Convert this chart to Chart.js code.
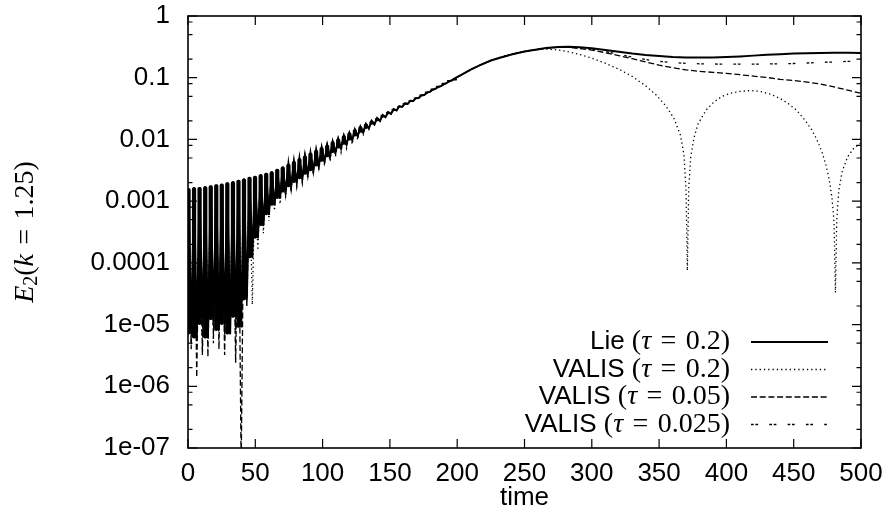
<!DOCTYPE html>
<html>
<head>
<meta charset="utf-8">
<script src="https://cdn.jsdelivr.net/npm/chart.js@4.4.1/dist/chart.umd.min.js"></script>
<style>
  html, body { margin:0; padding:0; background:#fff; }
  #wrap { width:888px; height:528px; }
</style>
</head>
<body>
<div id="wrap"><canvas id="chart" width="888" height="528"></canvas></div>
<script>
/* ============ DATA ============ */
// oscillation phase: peaks (shared by all runs)
var peakT = [0.4, 4.5, 8.6, 12.8, 16.9, 21.0, 25.1, 29.2, 33.4, 37.5, 41.6, 45.7, 49.8, 54.0, 58.1,
  62.2, 66.3, 70.4, 74.6, 78.7, 82.8, 86.9, 91.0, 95.2, 99.3, 103.4, 107.5, 111.6, 115.8, 119.9,
  124.0, 128.1, 132.2, 136.4, 140.5, 144.6, 148.7, 152.8, 157.0, 161.1, 165.2, 169.3, 173.4, 177.6,
  181.7, 185.8, 189.9, 194.0, 198.2];
var peakE = [1.6e-3, 1.66e-3, 1.68e-3, 1.72e-3, 1.78e-3, 1.85e-3, 1.9e-3, 2.0e-3, 2.08e-3, 2.2e-3,
  2.3e-3, 2.45e-3, 2.55e-3, 2.7e-3, 2.85e-3, 3.0e-3, 3.3e-3, 3.6e-3, 4.0e-3, 4.4e-3,
  4.9e-3, 5.4e-3, 6.0e-3, 6.7e-3, 7.4e-3, 8.1e-3, 9.2e-3, 1.02e-2, 1.15e-2, 1.28e-2,
  1.45e-2, 1.62e-2, 1.79e-2, 2.0e-2, 2.22e-2, 2.48e-2, 2.77e-2, 3.09e-2, 3.45e-2, 3.83e-2,
  4.22e-2, 4.66e-2, 5.17e-2, 5.73e-2, 6.38e-2, 7.07e-2, 7.81e-2, 8.7e-2, 9.75e-2];

// troughs
var troughT = [2.4, 6.5, 10.7, 14.8, 18.9, 23.0, 27.2, 31.3, 35.4, 39.5, 43.7, 47.8, 51.9, 56.0,
  60.1, 64.3, 68.4, 72.5, 76.6, 80.8, 84.9, 89.0, 93.1, 97.2, 101.4, 105.5, 109.6, 113.7, 117.8,
  122.0, 126.1, 130.2, 134.3, 138.5, 142.6, 146.7, 150.8, 154.9, 159.1, 163.2, 167.3, 171.4, 175.5,
  179.7, 183.8, 187.9, 192.0, 196.1];
// troughs from t=51.9 on (shared)
var troughLate = [2.5e-4, 4e-4, 6e-4, 8.5e-4, 1.1e-3, 1.4e-3, 1.7e-3, 2.0e-3, 2.3e-3, 2.7e-3,
  3.1e-3, 3.7e-3, 4.4e-3, 5.2e-3, 6.1e-3, 7.2e-3, 8.3e-3, 9.7e-3, 1.13e-2, 1.3e-2,
  1.5e-2, 1.75e-2, 1.99e-2, 2.29e-2, 2.6e-2, 2.95e-2, 3.36e-2, 3.77e-2, 4.21e-2, 4.7e-2,
  5.26e-2, 5.89e-2, 6.58e-2, 7.3e-2, 8.15e-2, 9.1e-2];
// first 12 troughs (t = 2.4 .. 47.8) per run
var earlyLie   = [7e-6, 6e-6, 1e-5, 6e-6, 1.2e-5, 8e-6, 1e-5, 7e-6, 1.3e-5, 9e-6, 2.5e-5, 1.2e-4];
var earlyV005  = [4e-6, 1.4e-6, 3.2e-6, 3e-6, 6e-6, 4e-6, 3.2e-6, 7e-6, 2.4e-6, 5e-8, 1.9e-5, 1.5e-4];
var earlyV0025 = [5e-6, 9e-6, 4e-6, 8e-6, 5e-6, 1.3e-5, 6e-6, 9e-6, 5e-6, 1.5e-5, 4e-5, 1.3e-4];
// VALIS tau=0.2 goes a bit deeper, first 32 troughs (t = 2.4 .. 130.2)
var troughV02 = [1.2e-5, 8e-6, 1.6e-5, 9e-6, 1.5e-5, 1.1e-5, 9e-6, 1.4e-5, 1.2e-5, 2e-5, 3e-5, 2.1e-5,
  1.6e-4, 3e-4, 4.8e-4, 7e-4, 9e-4, 1.15e-3, 1.45e-3, 1.75e-3, 2.0e-3, 2.35e-3, 2.7e-3, 3.2e-3,
  3.8e-3, 4.5e-3, 5.3e-3, 6.2e-3, 7.2e-3, 8.4e-3, 9.8e-3, 1.14e-2];

// saturation phase
var lateT = [202, 210, 217, 225, 233, 241, 250, 258, 266, 275, 283, 291, 300, 310, 320, 330, 340,
  350, 360, 370, 380, 390, 400, 410, 420, 430, 440, 450, 460, 470, 480, 490, 500];
var lateLie = [0.108, 0.135, 0.16, 0.19, 0.215, 0.24, 0.265, 0.285, 0.303, 0.315, 0.318, 0.312, 0.3,
  0.282, 0.263, 0.246, 0.233, 0.224, 0.217, 0.213, 0.212, 0.213, 0.216, 0.221, 0.228, 0.235, 0.241,
  0.246, 0.25, 0.252, 0.253, 0.253, 0.252];
var lateV005 = [0.108, 0.135, 0.16, 0.19, 0.215, 0.24, 0.265, 0.284, 0.3, 0.31, 0.31, 0.298, 0.28,
  0.255, 0.228, 0.203, 0.18, 0.16, 0.145, 0.134, 0.127, 0.122, 0.118, 0.112, 0.106, 0.101, 0.094,
  0.09, 0.085, 0.079, 0.071, 0.063, 0.056];
var lateV0025 = [0.108, 0.135, 0.16, 0.19, 0.215, 0.24, 0.265, 0.284, 0.301, 0.312, 0.313, 0.305, 0.29,
  0.266, 0.24, 0.215, 0.197, 0.184, 0.176, 0.171, 0.168, 0.167, 0.166, 0.166, 0.166, 0.167, 0.168,
  0.17, 0.173, 0.177, 0.18, 0.184, 0.187];
var v02T = [202, 210, 217, 225, 233, 241, 250, 258, 266, 275, 283, 291, 300, 310, 320, 330, 340, 348,
  355, 361, 366, 368.5, 370, 371, 372, 373.5, 376, 379, 385, 391, 397, 403, 410, 418, 425, 433, 440,
  446, 452, 458, 463, 467, 471, 474, 476.5, 478.5, 480, 481, 482, 483.5, 486, 490, 495, 500];
var v02E = [0.107, 0.134, 0.16, 0.19, 0.218, 0.243, 0.268, 0.284, 0.29, 0.282, 0.262, 0.238, 0.208,
  0.172, 0.138, 0.105, 0.074, 0.052, 0.035, 0.022, 0.0115, 0.0055, 0.0015, 7.5e-5, 0.0016, 0.0052,
  0.0108, 0.018, 0.03, 0.041, 0.05, 0.056, 0.06, 0.062, 0.06, 0.054, 0.046, 0.038, 0.03, 0.021,
  0.0148, 0.0102, 0.0063, 0.0038, 0.0022, 0.0011, 4.5e-4, 3.3e-5, 5e-4, 0.0015, 0.003, 0.0052,
  0.0074, 0.0087];

var seriesNames = ['Lie', 'VALIS', 'VALIS', 'VALIS'];
var seriesTaus = ['0.2', '0.2', '0.05', '0.025'];

var xTickVals = [0, 50, 100, 150, 200, 250, 300, 350, 400, 450, 500];
var yTickVals = [1e-7, 1e-6, 1e-5, 1e-4, 1e-3, 1e-2, 1e-1, 1];
var yTickText = ['1e-07', '1e-06', '1e-05', '0.0001', '0.001', '0.01', '0.1', '1'];
var yMinorMul = [2, 5, 8];

/* ============ BUILD ============ */
function buildSeries(troughs, lx, ly) {
  var pts = [];
  for (var i = 0; i < peakT.length; i++) {
    pts.push({ x: peakT[i], y: peakE[i] });
    if (i < troughT.length) pts.push({ x: troughT[i], y: troughs[i] });
  }
  for (var j = 0; j < lx.length; j++) pts.push({ x: lx[j], y: ly[j] });
  return pts;
}

var SANS = '"Liberation Sans", Arial, sans-serif';
var SERIF = '"Liberation Serif", "DejaVu Serif", serif';

var styles = [
  { width: 2, dash: [] },
  { width: 1.3, dash: [1.3, 3] },
  { width: 1.3, dash: [6, 2.7] },
  { width: 1.3, dash: [2.7, 1.7, 2.7, 11.2] }
];
var troughLie = earlyLie.concat(troughLate);
var seriesData = [
  buildSeries(troughLie, lateT, lateLie),
  buildSeries(troughV02.concat(troughLate.slice(20)), v02T, v02E),
  buildSeries(earlyV005.concat(troughLate), lateT, lateV005),
  buildSeries(earlyV0025.concat(troughLate), lateT, lateV0025)
];

var datasets = seriesData.map(function(d, i) {
  return {
    type: 'line',
    label: seriesNames[i] + ' (τ = ' + seriesTaus[i] + ')',
    data: d,
    borderColor: '#000',
    backgroundColor: '#000',
    borderWidth: styles[i].width,
    borderDash: styles[i].dash,
    pointRadius: 0,
    tension: 0,
    fill: false
  };
});
// dense oscillation humps: one floating column per peak, from the trough up to the peak
datasets.push({
  type: 'bar',
  label: 'humps',
  data: peakT.map(function(t, i) {
    return { x: t, y: [troughLie[Math.min(i, troughLie.length - 1)], peakE[i]] };
  }),
  backgroundColor: '#000',
  borderWidth: 0,
  barThickness: 3.6,
  borderRadius: 1.8,
  borderSkipped: false
});

/* ============ DRAW HELPERS ============ */
function drawRuns(ctx, runs, x, y, align) {
  var total = 0;
  runs.forEach(function(r) { ctx.font = r.font; r.w = ctx.measureText(r.text).width; total += r.w; });
  var cx = align === 'right' ? x - total : (align === 'center' ? x - total / 2 : x);
  ctx.textAlign = 'left';
  ctx.textBaseline = 'middle';
  runs.forEach(function(r) {
    ctx.font = r.font;
    ctx.fillText(r.text, cx, y + (r.dy || 0));
    cx += r.w;
  });
}

var decor = {
  id: 'decor',
  afterDraw: function(chart) {
    var ctx = chart.ctx, a = chart.chartArea;
    var xs = chart.scales.x, ys = chart.scales.y;
    ctx.save();
    ctx.fillStyle = '#000';
    ctx.strokeStyle = '#000';
    ctx.setLineDash([]);

    // ticks (inward, all four sides)
    ctx.lineWidth = 1.2;
    ctx.beginPath();
    xTickVals.forEach(function(v) {
      var px = xs.getPixelForValue(v);
      ctx.moveTo(px, a.bottom); ctx.lineTo(px, a.bottom - 9);
      ctx.moveTo(px, a.top); ctx.lineTo(px, a.top + 9);
    });
    yTickVals.forEach(function(v) {
      var py = ys.getPixelForValue(v);
      ctx.moveTo(a.left, py); ctx.lineTo(a.left + 9, py);
      ctx.moveTo(a.right, py); ctx.lineTo(a.right - 9, py);
      yMinorMul.forEach(function(m) {
        if (v * m > 1) return;
        var pm = ys.getPixelForValue(v * m);
        ctx.moveTo(a.left, pm); ctx.lineTo(a.left + 4.5, pm);
        ctx.moveTo(a.right, pm); ctx.lineTo(a.right - 4.5, pm);
      });
    });
    ctx.stroke();

    // frame
    ctx.lineWidth = 1.6;
    ctx.strokeRect(a.left, a.top, a.right - a.left, a.bottom - a.top);

    // legend
    var rowY = [342, 369.5, 397, 424.5];
    for (var i = 0; i < seriesNames.length; i++) {
      var ds = chart.data.datasets[i], y = rowY[i];
      drawRuns(ctx, [
        { text: seriesNames[i] + ' ', font: '26px ' + SANS },
        { text: '(', font: '28px ' + SERIF },
        { text: 'τ', font: 'italic 28px ' + SERIF },
        { text: '\u2004=\u2004' + seriesTaus[i] + ')', font: '28px ' + SERIF }
      ], 730, y, 'right');
      ctx.lineWidth = ds.borderWidth;
      ctx.setLineDash(ds.borderDash);
      ctx.beginPath();
      ctx.moveTo(751, y); ctx.lineTo(828, y);
      ctx.stroke();
      ctx.setLineDash([]);
    }

    // x title
    ctx.font = '26px ' + SANS;
    ctx.textAlign = 'center';
    ctx.textBaseline = 'middle';
    ctx.fillText('time', (a.left + a.right) / 2, 498);

    // y title E_2(k = 1.25)
    ctx.translate(26, (a.top + a.bottom) / 2);
    ctx.rotate(-Math.PI / 2);
    drawRuns(ctx, [
      { text: 'E', font: 'italic 28px ' + SERIF },
      { text: '2', font: '20px ' + SERIF, dy: 6 },
      { text: '(', font: '28px ' + SERIF },
      { text: 'k', font: 'italic 28px ' + SERIF },
      { text: '\u2004=\u20041.25)', font: '28px ' + SERIF }
    ], 0, 0, 'center');
    ctx.restore();
  }
};

/* ============ CHART ============ */
new Chart(document.getElementById('chart'), {
  type: 'line',
  data: { datasets: datasets },
  options: {
    responsive: false,
    animation: false,
    devicePixelRatio: 1,
    layout: { padding: { left: 0, right: 27, top: 16, bottom: 0 } },
    plugins: { legend: { display: false }, tooltip: { enabled: false } },
    scales: {
      x: {
        type: 'linear', min: 0, max: 500, offset: false,
        afterBuildTicks: function(s) { s.ticks = xTickVals.map(function(v) { return { value: v }; }); },
        afterFit: function(s) { s.height = 80; s.paddingLeft = 0; s.paddingRight = 0; },
        grid: { display: false, drawTicks: false, offset: false },
        border: { display: false },
        ticks: { color: '#000', padding: 10, maxRotation: 0, font: { family: SANS, size: 26 } }
      },
      y: {
        type: 'logarithmic', min: 1e-7, max: 1,
        afterBuildTicks: function(s) { s.ticks = yTickVals.map(function(v) { return { value: v }; }); },
        afterFit: function(s) { s.width = 188; s.paddingTop = 0; s.paddingBottom = 0; },
        grid: { display: false, drawTicks: false },
        border: { display: false },
        ticks: {
          color: '#000', padding: 18, font: { family: SANS, size: 26 },
          callback: function(v) {
            for (var i = 0; i < yTickVals.length; i++) {
              if (Math.abs(Math.log10(v) - Math.log10(yTickVals[i])) < 1e-6) return yTickText[i];
            }
            return '';
          }
        }
      }
    }
  },
  plugins: [decor]
});
</script>
</body>
</html>
